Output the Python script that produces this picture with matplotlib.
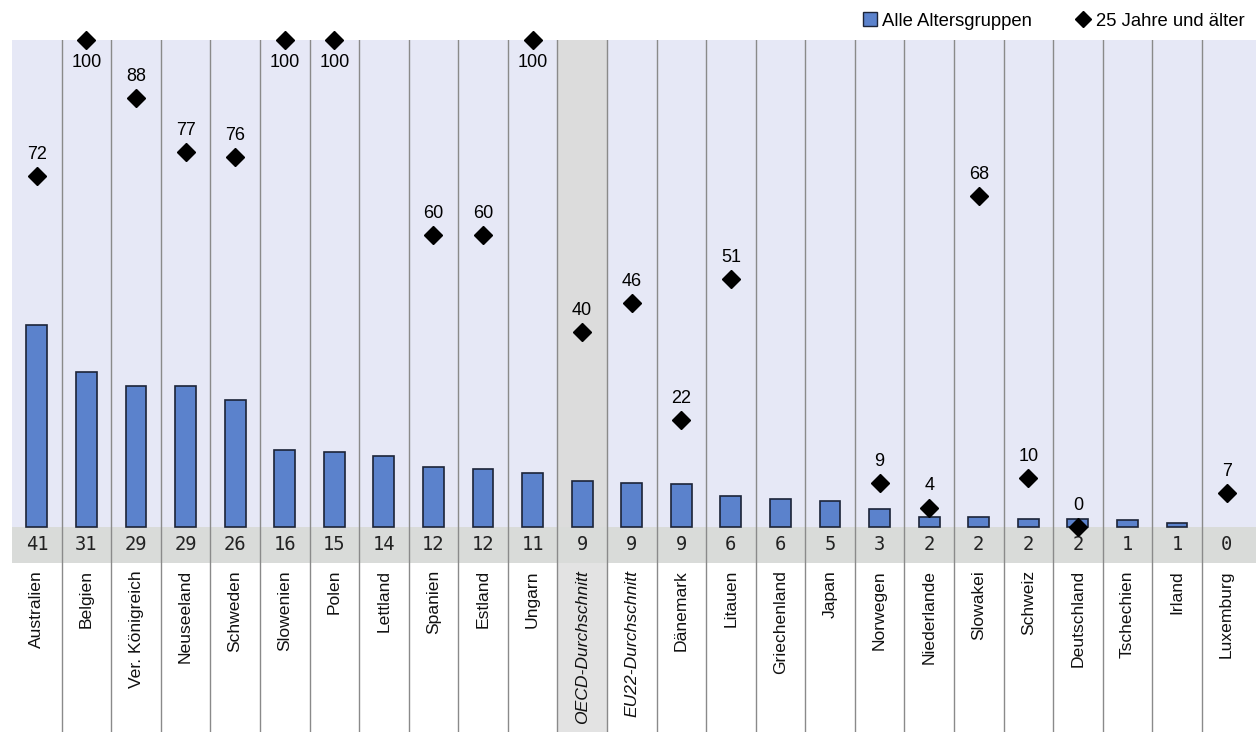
import matplotlib
matplotlib.use('Agg')
import matplotlib.pyplot as plt
from matplotlib.patches import Patch
from matplotlib.lines import Line2D
import numpy as np

# Daten
laender = ['Australien', 'Belgien', 'Ver. Königreich', 'Neuseeland', 'Schweden',
           'Slowenien', 'Polen', 'Lettland', 'Spanien', 'Estland', 'Ungarn',
           'OECD-Durchschnitt', 'EU22-Durchschnitt', 'Dänemark', 'Litauen',
           'Griechenland', 'Japan', 'Norwegen', 'Niederlande', 'Slowakei',
           'Schweiz', 'Deutschland', 'Tschechien', 'Irland', 'Luxemburg']
alle = [41.5, 31.8, 29.0, 29.0, 26.1, 15.8, 15.4, 14.6, 12.3, 11.9, 11.0,
        9.4, 9.0, 8.8, 6.3, 5.8, 5.3, 3.6, 2.1, 2.1, 1.7, 1.7, 1.4, 0.8, 0.0]
alle_txt = ['41', '31', '29', '29', '26', '16', '15', '14', '12', '12', '11',
            '9', '9', '9', '6', '6', '5', '3', '2', '2', '2', '2', '1', '1', '0']
ab25 = [72, 100, 88, 77, 76, 100, 100, None, 60, 60, 100,
        40, 46, 22, 51, None, None, 9, 4, 68, 10, 0, None, None, 7]
kursiv = ['OECD-Durchschnitt', 'EU22-Durchschnitt']

# Farben
c_bar = '#5b82cc'
c_edge = '#1c2438'
c_bg = '#e6e8f6'
c_band = '#d9dbd9'
c_oecd = '#dcdcdc'
c_line = '#8a8a8a'

W, H = 1256, 732
fig = plt.figure(figsize=(W/100, H/100), dpi=100)
x0 = 12.1
ax = fig.add_axes([x0/W, 0, 1 - x0/W, 1 - 40/H])

px_per_unit = (527 - 40) / 100.0
ymin = -(H - 527) / px_per_unit
band_lo = -(563 - 527) / px_per_unit
colw = 49.57
xmax = -0.5 + (W - x0) / colw

ax.set_xlim(-0.5, xmax)
ax.set_ylim(ymin, 100)
ax.axis('off')

n = len(laender)
x = np.arange(n)

ax.axhspan(0, 100, color=c_bg, zorder=0, lw=0)
ax.axhspan(band_lo, 0, color=c_band, zorder=0.5, lw=0)
i_oecd = laender.index('OECD-Durchschnitt')
ax.fill_between([i_oecd - 0.5, i_oecd + 0.5], 0, 100, color=c_oecd, zorder=0.3, lw=0)
ax.fill_between([i_oecd - 0.5, i_oecd + 0.5], ymin, band_lo, color='#e3e3e3', zorder=0.3, lw=0)

for i in range(n - 1):
    ax.plot([i + 0.5, i + 0.5], [ymin, 100], color=c_line, lw=1.0, zorder=1)

kanten = [c_edge if v > 0 else 'none' for v in alle]
ax.bar(x, alle, width=0.42, color=c_bar, edgecolor=kanten, linewidth=1.2, zorder=2)

for i in range(n):
    ax.text(i, band_lo / 2, alle_txt[i], ha='center', va='center',
            fontsize=13.5, family='DejaVu Sans Mono', color='#222222', zorder=3)
    st = 'italic' if laender[i] in kursiv else 'normal'
    ax.text(i, band_lo - 7 / px_per_unit, laender[i], rotation=90, ha='center', va='top',
            fontsize=12.6, family='Liberation Sans', style=st, color='#111111')
    v = ab25[i]
    if v is None:
        continue
    ax.plot(i, v, marker='D', markersize=9.5, color='black', lw=0, zorder=4, clip_on=False)
    if v >= 100:
        ax.annotate(str(v), (i, v), xytext=(0, -16), textcoords='offset points',
                    ha='center', va='center', fontsize=13, family='Liberation Sans')
    else:
        ax.annotate(str(v), (i, v), xytext=(0, 15.5), textcoords='offset points',
                    ha='center', va='center', fontsize=13, family='Liberation Sans')

handles = [Patch(facecolor=c_bar, edgecolor=c_edge, linewidth=1.0, label='Alle Altersgruppen'),
           Line2D([], [], marker='D', color='black', lw=0, markersize=8.5, label='25 Jahre und älter')]
fig.legend(handles=handles, loc='center right', bbox_to_anchor=(1.004, 1 - 21 / H), ncol=2,
           frameon=False, prop={'family': 'Liberation Sans', 'size': 13.3},
           handlelength=0.75, handleheight=0.75, handletextpad=0.3, columnspacing=2.4)

fig.savefig('out.png', dpi=100)
